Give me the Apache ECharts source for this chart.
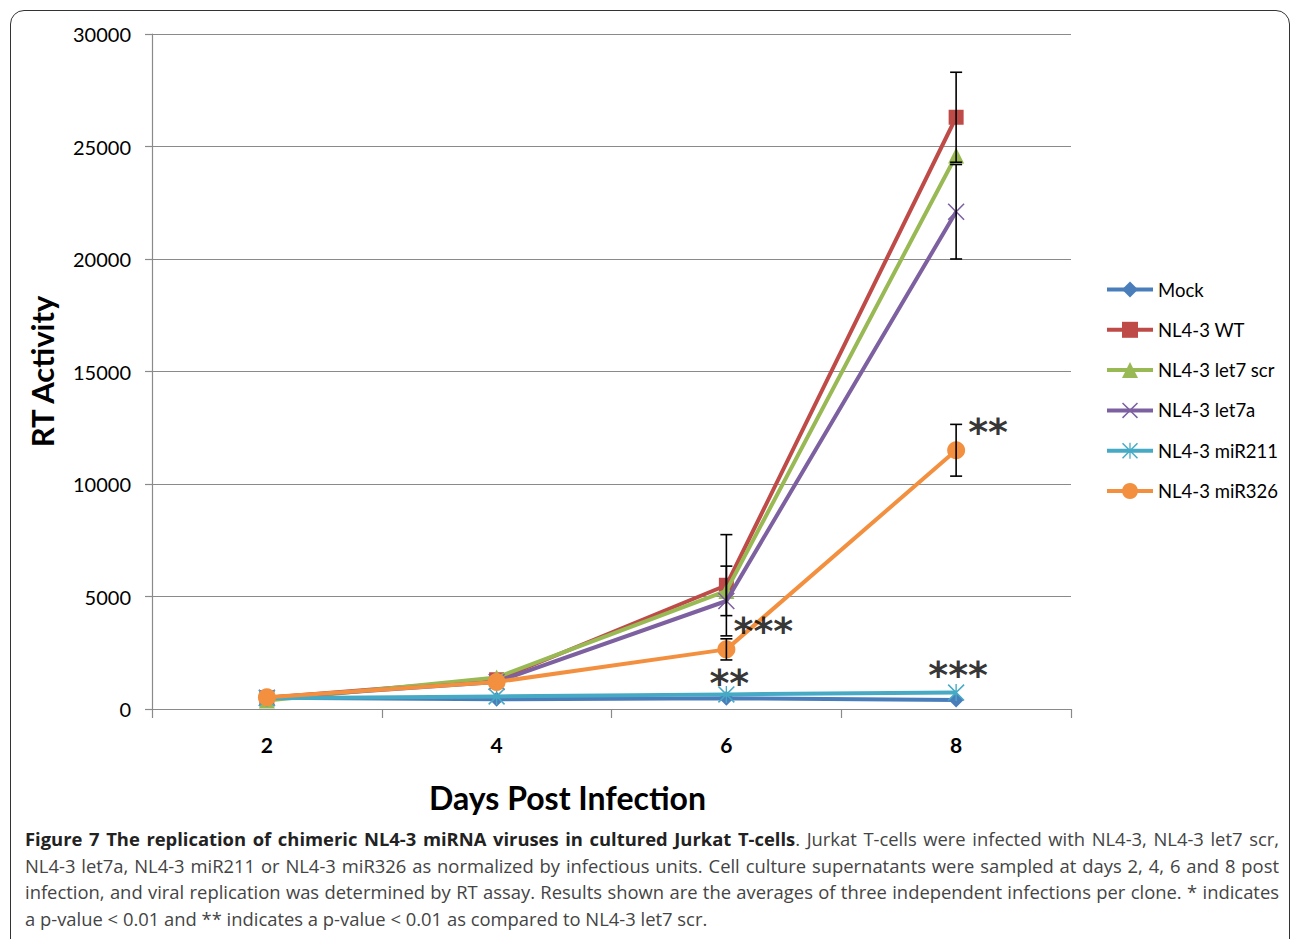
<!DOCTYPE html>
<html>
<head>
<meta charset="utf-8">
<script src="https://cdn.jsdelivr.net/npm/echarts@6/dist/echarts.min.js"></script>
<style>
  html, body { margin: 0; padding: 0; background: #fff; }
  #frame { position: absolute; left: 10px; top: 10px; width: 1280px; height: 960px;
           border: 1.5px solid #333; border-radius: 14px; box-sizing: border-box; }
  #chart { position: absolute; left: 0; top: 0; width: 1293px; height: 939px; }
  #caption { position: absolute; left: 25px; top: 826px; width: 1254px;
             font-family: "Open Sans", sans-serif; font-size: 18.4px; line-height: 26.5px;
             color: #444; }
  #caption .ln { display: block; white-space: nowrap; text-align: justify; text-align-last: justify; }
  #caption .last { display: block; white-space: nowrap; text-align: left; }
  #caption b { color: #222; }
</style>
</head>
<body>
<div id="frame"></div>
<div id="chart"></div>
<div id="caption"><span class="ln"><b>Figure 7 The replication of chimeric NL4-3 miRNA viruses in cultured Jurkat T-cells</b>. Jurkat T-cells were infected with NL4-3, NL4-3 let7 scr,</span><span class="ln">NL4-3 let7a, NL4-3 miR211 or NL4-3 miR326 as normalized by infectious units. Cell culture supernatants were sampled at days 2, 4, 6 and 8 post</span><span class="ln">infection, and viral replication was determined by RT assay. Results shown are the averages of three independent infections per clone. * indicates</span><span class="last">a p-value &lt; 0.01 and ** indicates a p-value &lt; 0.01 as compared to NL4-3 let7 scr.</span></div>
<script>
// ---- data ----
const days = ['2', '4', '6', '8'];
const seriesNames = ['Mock', 'NL4-3 WT', 'NL4-3 let7 scr', 'NL4-3 let7a', 'NL4-3 miR211', 'NL4-3 miR326'];
const mock    = [500, 430, 480, 400];
const wt      = [500, 1300, 5500, 26300];
const let7scr = [380, 1400, 5250, 24600];
const let7a   = [500, 1200, 4800, 22100];
const miR211  = [480, 560, 650, 730];
const miR326  = [520, 1200, 2650, 11500];
// symmetric error (+/-) per day
const wtErr      = [0, 0, 2250, 2000];
const let7scrErr = [0, 0, 1100, 0];
const let7aErr   = [0, 0, 0, 2100];
const miR326Err  = [0, 0, 470, 1150];
// significance annotations
const annoDay   = ['6', '6', '8', '8'];
const annoValue = [3450, 1150, 1500, 12300];
const annoText  = ['***', '**', '***', '**'];
const yTicks = [0, 5000, 10000, 15000, 20000, 25000, 30000];

// ---- styling ----
const colors = ['#4A7EBB', '#BE4B48', '#98B954', '#7D60A0', '#46AAC5', '#F3903F'];
const xPath = 'path://M0,1.3L1.3,0L10,8.7L18.7,0L20,1.3L11.3,10L20,18.7L18.7,20L10,11.3L1.3,20L0,18.7L8.7,10Z';
const starPath = 'path://M0,1.3L1.3,0L10,8.7L18.7,0L20,1.3L11.3,10L20,18.7L18.7,20L10,11.3L1.3,20L0,18.7L8.7,10Z M9.2,0L10.8,0L10.8,20L9.2,20Z';
const symbols = ['diamond', 'rect', 'triangle', xPath, starPath, 'circle'];
const symbolSizes = [15, 15, 16, 17, 17, 18];
const annoOffsets = [[37, 0], [3, 0], [2, 0], [32, 0]];
const FONT = 'Lato';

const valueSets = [mock, wt, let7scr, let7a, miR211, miR326];
const lineSeries = seriesNames.map((name, i) => ({
  name, type: 'line', data: valueSets[i],
  symbol: symbols[i], symbolSize: symbolSizes[i],
  lineStyle: { width: 4, color: colors[i] },
  itemStyle: { color: colors[i] },
  emphasis: { disabled: true },
  z: 2 + i
}));

const errSets = [[wt, wtErr], [let7scr, let7scrErr], [let7a, let7aErr], [miR326, miR326Err]];
const errData = [];
errSets.forEach(([vals, errs]) => {
  vals.forEach((v, d) => { if (errs[d] > 0) errData.push([d, v - errs[d], v + errs[d]]); });
});

const errorSeries = {
  type: 'custom', name: 'err', z: 20, silent: true,
  data: errData,
  renderItem: (params, api) => {
    const lo = api.coord([api.value(0), api.value(1)]);
    const hi = api.coord([api.value(0), api.value(2)]);
    const w = 6;
    const st = { stroke: '#000', lineWidth: 1.6 };
    return { type: 'group', children: [
      { type: 'line', shape: { x1: lo[0], y1: lo[1], x2: hi[0], y2: hi[1] }, style: st },
      { type: 'line', shape: { x1: lo[0] - w, y1: lo[1], x2: lo[0] + w, y2: lo[1] }, style: st },
      { type: 'line', shape: { x1: hi[0] - w, y1: hi[1], x2: hi[0] + w, y2: hi[1] }, style: st }
    ]};
  }
};

const annoSeries = {
  type: 'scatter', name: 'anno', z: 30, silent: true, symbolSize: 1,
  itemStyle: { color: 'rgba(0,0,0,0)' },
  data: annoDay.map((d, i) => ({
    value: [d, annoValue[i]], name: annoText[i],
    label: { show: true, formatter: annoText[i], offset: annoOffsets[i], position: 'inside',
             fontFamily: 'DejaVu Sans', fontWeight: 'bold', fontSize: 38, color: '#000' }
  }))
};

const chart = echarts.init(document.getElementById('chart'), null, { renderer: 'svg' });
chart.setOption({
  animation: false,
  backgroundColor: 'transparent',
  grid: { left: 152, right: 222, top: 34, bottom: 230 },
  legend: {
    orient: 'vertical', left: 1105, top: 280, padding: 0,
    itemWidth: 46, itemHeight: 20, itemGap: 21.3,
    data: seriesNames,
    lineStyle: { width: 4 },
    textStyle: { fontFamily: FONT, fontSize: 18.5, color: '#000' }
  },
  xAxis: {
    type: 'category', data: days, boundaryGap: true,
    name: 'Days Post Infection', nameLocation: 'middle', nameGap: 72,
    nameTextStyle: { fontFamily: FONT, fontWeight: 'bold', fontSize: 32, color: '#000', padding: [0, 88, 0, 0] },
    axisLine: { lineStyle: { color: '#8a8a8a', width: 1.2 } },
    axisTick: { show: true, length: 9, alignWithLabel: false, lineStyle: { color: '#8a8a8a', width: 1.2 } },
    axisLabel: { margin: 25, fontFamily: FONT, fontWeight: 'bold', fontSize: 21, color: '#000' }
  },
  yAxis: {
    type: 'value', min: 0, max: 30000, interval: 5000,
    name: 'RT Activity', nameLocation: 'middle', nameGap: 95, nameRotate: 90,
    nameTextStyle: { fontFamily: FONT, fontWeight: 'bold', fontSize: 31, color: '#000' },
    axisLine: { show: true, lineStyle: { color: '#8a8a8a', width: 1.2 } },
    axisTick: { show: true, length: 7, lineStyle: { color: '#8a8a8a', width: 1.2 } },
    splitLine: { show: true, lineStyle: { color: '#8a8a8a', width: 1.2 } },
    axisLabel: { margin: 21, fontFamily: FONT, fontSize: 20, color: '#000',
                 formatter: v => yTicks.includes(v) ? String(v) : '' }
  },
  series: [...lineSeries, errorSeries, annoSeries]
});
</script>
</body>
</html>
